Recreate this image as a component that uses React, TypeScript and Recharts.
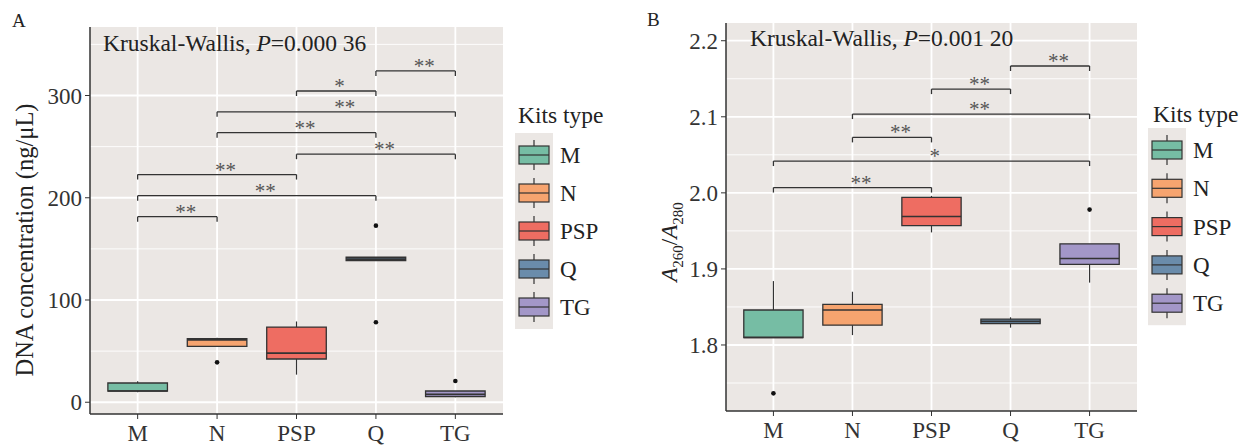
import React from 'react';
import {
  ComposedChart, XAxis, YAxis, CartesianGrid, ReferenceArea, ReferenceLine, Scatter,
} from 'recharts';

const FONT = '"Liberation Serif", "Times New Roman", Times, serif';
const PANEL_BG = '#EBE7E4';
const INK = '#333';

// kits
const kits = ['M', 'N', 'PSP', 'Q', 'TG'];
const kitColors = ['#76BDA4', '#F6A46F', '#EE6D62', '#6A8CAB', '#A397C8'];

// A: DNA concentration (ng/uL)
const dnaMin = [9.8, 54.6, 27, 138.5, 4.9];
const dnaQ1 = [11, 54.6, 42.3, 138.5, 5.6];
const dnaMedian = [11, 61, 48, 140, 7.8];
const dnaQ3 = [18.8, 62.1, 73.5, 141.8, 11];
const dnaMax = [20.5, 63, 79, 141.8, 11];
const dnaOutlierKit = ['N', 'Q', 'Q', 'TG'];
const dnaOutlierValue = [39, 172.7, 78.3, 20.8];
const dnaTicks = [0, 100, 200, 300];
const dnaMinor = [50, 150, 250, 350];
const dnaPairFrom = ['M', 'M', 'M', 'PSP', 'N', 'N', 'PSP', 'Q'];
const dnaPairTo = ['N', 'Q', 'PSP', 'TG', 'Q', 'TG', 'Q', 'TG'];
const dnaPairY = [181.5, 202, 222.7, 242.6, 263.6, 284, 304.4, 324];
const dnaPairStars = ['**', '**', '**', '**', '**', '**', '*', '**'];

// B: A260/A280
const ratioMin = [1.8096, 1.813, 1.948, 1.8228, 1.882];
const ratioQ1 = [1.8096, 1.826, 1.957, 1.828, 1.906];
const ratioMedian = [1.81, 1.846, 1.969, 1.831, 1.9136];
const ratioQ3 = [1.846, 1.8535, 1.994, 1.834, 1.933];
const ratioMax = [1.884, 1.87, 1.996, 1.8364, 1.933];
const ratioOutlierKit = ['M', 'TG'];
const ratioOutlierValue = [1.7364, 1.978];
const ratioTicks = [1.8, 1.9, 2.0, 2.1, 2.2];
const ratioMinor = [1.75, 1.85, 1.95, 2.05, 2.15];
const ratioPairFrom = ['M', 'M', 'N', 'N', 'PSP', 'Q'];
const ratioPairTo = ['PSP', 'TG', 'PSP', 'TG', 'Q', 'TG'];
const ratioPairY = [2.007, 2.0418, 2.0729, 2.1036, 2.1364, 2.1668];
const ratioPairStars = ['**', '*', '**', '**', '**', '**'];

const pos = (k: string) => kits.indexOf(k) + 1;

const starLabel = (props: any) => {
  const vb = props.viewBox;
  if (!vb) return null;
  return (
    <text x={vb.x + vb.width / 2 - 2} y={vb.y + 2} fontSize={21} fill="#555" fontFamily={FONT}>
      {props.value}
    </text>
  );
};

interface PanelProps {
  width: number; height: number;
  margin: { top: number; right: number; bottom: number; left: number };
  yWidth: number; xHeight: number;
  domain: [number, number];
  ticks: number[]; minor: number[];
  lo: number[]; q1: number[]; med: number[]; q3: number[]; hi: number[];
  outKit: string[]; outVal: number[];
  pFrom: string[]; pTo: string[]; pY: number[]; pStars: string[];
  fmt: (v: number) => string;
}

function BoxPanel(p: PanelProps) {
  const plotH = p.height - p.margin.top - p.margin.bottom - p.xHeight;
  const drop = (5 * (p.domain[1] - p.domain[0])) / plotH;
  const hw = 0.375;
  const outliers = p.outKit.map((k, i) => ({ x: pos(k), y: p.outVal[i] }));
  const tick = { fontSize: 23, fill: INK, fontFamily: FONT };

  return (
    <ComposedChart width={p.width} height={p.height} margin={p.margin}>
      <CartesianGrid fill={PANEL_BG} fillOpacity={1} stroke="#fff" strokeWidth={0.9}
        vertical={false} horizontalValues={p.minor} />
      <CartesianGrid stroke="#fff" strokeWidth={1.8}
        horizontalValues={p.ticks} verticalValues={[1, 2, 3, 4, 5]} />
      <XAxis type="number" dataKey="x" domain={[0.4, 5.6]} allowDataOverflow ticks={[1, 2, 3, 4, 5]}
        tickFormatter={(v: number) => kits[v - 1]} height={p.xHeight} tick={tick}
        tickSize={5} tickMargin={6} axisLine={{ stroke: INK, strokeWidth: 1.5 }} tickLine={{ stroke: INK }} />
      <YAxis type="number" dataKey="y" domain={p.domain} allowDataOverflow ticks={p.ticks}
        tickFormatter={p.fmt} width={p.yWidth} tick={tick}
        tickSize={5} tickMargin={3} axisLine={{ stroke: INK, strokeWidth: 1.5 }} tickLine={{ stroke: INK }} />
      {kits.map((k, i) => (
        <ReferenceLine key={'wu' + k} segment={[{ x: i + 1, y: p.q3[i] }, { x: i + 1, y: p.hi[i] }]}
          stroke={INK} strokeWidth={1.2} />
      ))}
      {kits.map((k, i) => (
        <ReferenceLine key={'wl' + k} segment={[{ x: i + 1, y: p.lo[i] }, { x: i + 1, y: p.q1[i] }]}
          stroke={INK} strokeWidth={1.2} />
      ))}
      {kits.map((k, i) => (
        <ReferenceArea key={'b' + k} x1={i + 1 - hw} x2={i + 1 + hw} y1={p.q1[i]} y2={p.q3[i]}
          fill={kitColors[i]} fillOpacity={1} stroke={INK} strokeWidth={1.3} />
      ))}
      {kits.map((k, i) => (
        <ReferenceLine key={'m' + k} segment={[{ x: i + 1 - hw, y: p.med[i] }, { x: i + 1 + hw, y: p.med[i] }]}
          stroke={INK} strokeWidth={1.6} />
      ))}
      {p.pY.map((y, i) => {
        const a = pos(p.pFrom[i]);
        const b = pos(p.pTo[i]);
        return (
          <React.Fragment key={'p' + i}>
            <ReferenceLine segment={[{ x: a, y }, { x: b, y }]} stroke={INK} strokeWidth={1.3}
              label={{ value: p.pStars[i], content: starLabel }} />
            <ReferenceLine segment={[{ x: a, y }, { x: a, y: y - drop }]} stroke={INK} strokeWidth={1.3} />
            <ReferenceLine segment={[{ x: b, y }, { x: b, y: y - drop }]} stroke={INK} strokeWidth={1.3} />
          </React.Fragment>
        );
      })}
      <Scatter data={outliers} isAnimationActive={false}
        shape={(s: any) => <circle cx={s.cx} cy={s.cy} r={2.3} fill="#111" />} />
    </ComposedChart>
  );
}

function LegendKeys({ x, y0, step, labelX }: { x: number; y0: number; step: number; labelX: number }) {
  return (
    <g>
      <rect x={x - 4} y={y0 - 22} width={38} height={step * 4 + 44} fill={PANEL_BG} />
      {kits.map((k, i) => {
        const cy = y0 + i * step;
        return (
          <g key={k}>
            <line x1={x + 15} x2={x + 15} y1={cy - 15} y2={cy + 15} stroke={INK} strokeWidth={1.2} />
            <rect x={x} y={cy - 9} width={30} height={18} fill={kitColors[i]} stroke={INK} strokeWidth={1.2} />
            <line x1={x} x2={x + 30} y1={cy} y2={cy} stroke={INK} strokeWidth={1.2} />
            <text x={labelX} y={cy + 8} fontSize={23} fill="#222" fontFamily={FONT}>{k}</text>
          </g>
        );
      })}
    </g>
  );
}

export default function App() {
  return (
    <div style={{ position: 'absolute', left: 0, top: 0, width: 1247, height: 447, background: '#fff', fontFamily: FONT }}>
      <div style={{ position: 'absolute', left: 0, top: 0 }}>
        <BoxPanel width={520} height={447} margin={{ top: 27, right: 17, bottom: 0, left: 0 }}
          yWidth={90} xHeight={33} domain={[-11.5, 367]} ticks={dnaTicks} minor={dnaMinor}
          lo={dnaMin} q1={dnaQ1} med={dnaMedian} q3={dnaQ3} hi={dnaMax}
          outKit={dnaOutlierKit} outVal={dnaOutlierValue}
          pFrom={dnaPairFrom} pTo={dnaPairTo} pY={dnaPairY} pStars={dnaPairStars}
          fmt={(v) => String(v)} />
      </div>
      <div style={{ position: 'absolute', left: 630, top: 0 }}>
        <BoxPanel width={520} height={447} margin={{ top: 23, right: 13, bottom: 0, left: 0 }}
          yWidth={96} xHeight={36} domain={[1.7132, 2.2233]} ticks={ratioTicks} minor={ratioMinor}
          lo={ratioMin} q1={ratioQ1} med={ratioMedian} q3={ratioQ3} hi={ratioMax}
          outKit={ratioOutlierKit} outVal={ratioOutlierValue}
          pFrom={ratioPairFrom} pTo={ratioPairTo} pY={ratioPairY} pStars={ratioPairStars}
          fmt={(v) => v.toFixed(1)} />
      </div>
      <svg width={1247} height={447} style={{ position: 'absolute', left: 0, top: 0, pointerEvents: 'none' }}
        fontFamily={FONT}>
        <text x={12} y={27} fontSize={19} fill="#222">A</text>
        <text x={647} y={26} fontSize={19} fill="#222">B</text>

        <text x={103} y={51} fontSize={23.5} fill="#222">
          Kruskal-Wallis, <tspan fontStyle="italic">P</tspan>=0.000 36
        </text>
        <text x={750} y={46} fontSize={23.5} fill="#222">
          Kruskal-Wallis, <tspan fontStyle="italic">P</tspan>=0.001 20
        </text>

        <text transform="translate(33,240) rotate(-90)" textAnchor="middle" fontSize={24.5} fill="#222">
          DNA concentration (ng/μL)
        </text>
        <text transform="translate(677,242) rotate(-90)" textAnchor="middle" fontSize={23} fill="#222">
          <tspan fontStyle="italic">A</tspan>
          <tspan fontSize={15} dy={6}>260</tspan>
          <tspan dy={-6}>/</tspan>
          <tspan fontStyle="italic">A</tspan>
          <tspan fontSize={15} dy={6}>280</tspan>
        </text>

        <text x={518} y={123} fontSize={23.5} fill="#222">Kits type</text>
        <LegendKeys x={519} y0={155} step={38} labelX={560} />

        <text x={1153} y={122} fontSize={23.5} fill="#222">Kits type</text>
        <LegendKeys x={1152} y0={150} step={38.3} labelX={1193} />
      </svg>
    </div>
  );
}
